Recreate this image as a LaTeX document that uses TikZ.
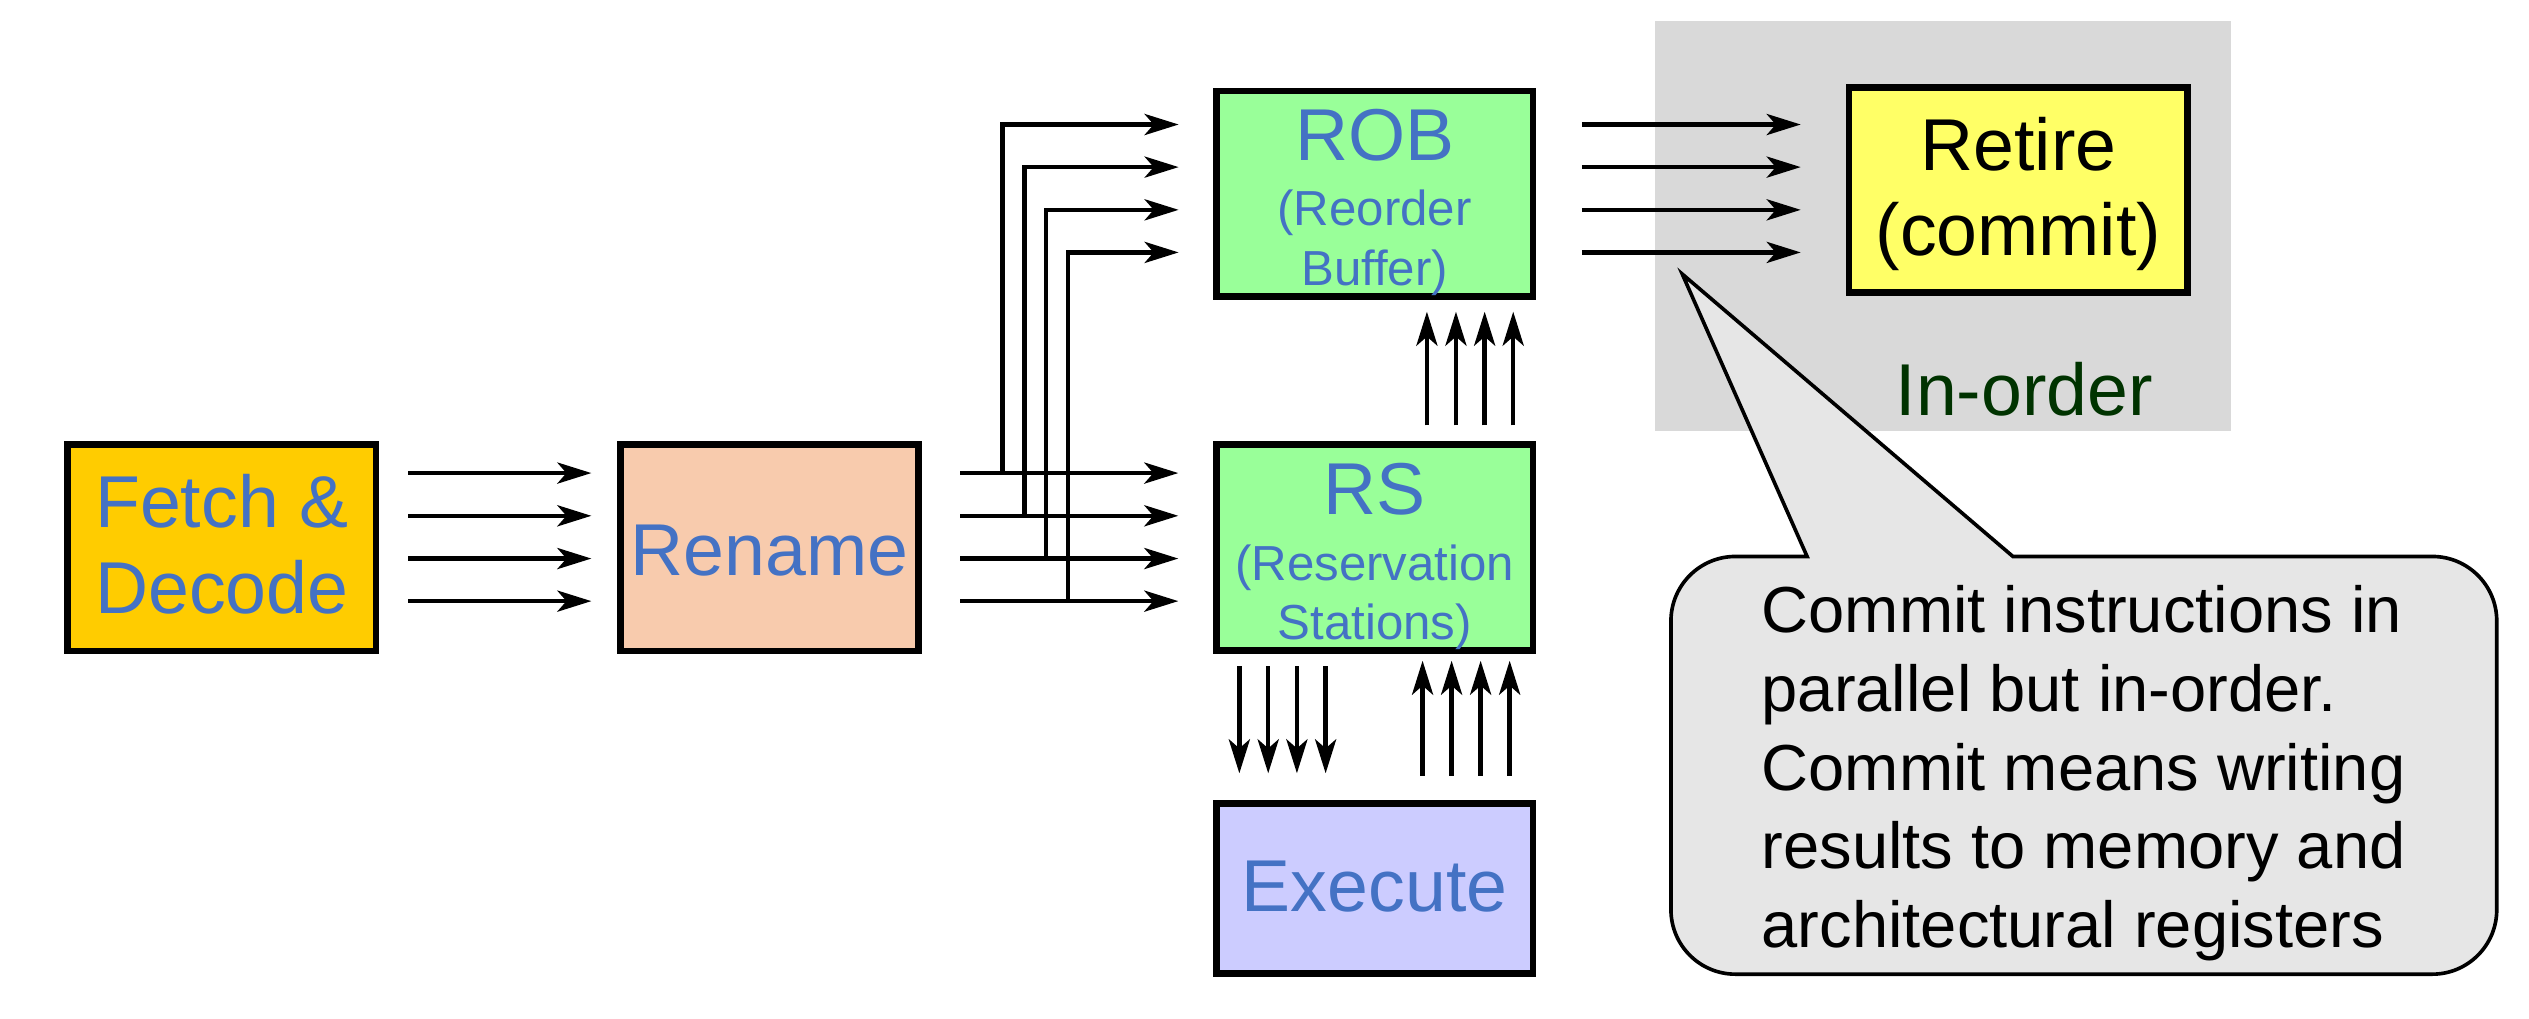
\documentclass[tikz,border=0pt]{standalone}
\usepackage{fontspec}
\setmainfont{Liberation Sans}
\usetikzlibrary{arrows.meta,calc}
\definecolor{txtblue}{HTML}{4472C4}
\definecolor{fetchc}{HTML}{FFCC00}
\definecolor{renamec}{HTML}{F8CBAD}
\definecolor{greenc}{HTML}{99FF99}
\definecolor{exec}{HTML}{CCCCFF}
\definecolor{retirec}{HTML}{FFFF66}
\definecolor{graybg}{HTML}{D9D9D9}
\definecolor{calloutc}{HTML}{E6E6E6}
\definecolor{darkgreen}{HTML}{003300}
\begin{document}
\begin{tikzpicture}[x=0.25mm, y=-0.25mm,
  box/.style={draw=black, line width=2.9pt, inner sep=0pt, rectangle},
  arr/.style={line width=2pt, -{Stealth[length=15pt, width=9.3pt, inset=4pt]}},
  big/.style={font=\fontsize{32.4pt}{38pt}\selectfont, text=txtblue, inner sep=0pt, anchor=base},
  small/.style={font=\fontsize{21.7pt}{26pt}\selectfont, text=txtblue, inner sep=0pt, anchor=base},
  note/.style={font=\fontsize{28.7pt}{34pt}\selectfont, inner sep=0pt, anchor=base west},
]
\useasboundingbox (0,0) rectangle (1568,631.2);

% in-order background
\node[fill=graybg, inner sep=0pt, minimum width=89.2mm, minimum height=63.55mm] (inorderbg) at (1204.55,139.9) {};

% boxes
\node[box, fill=fetchc, minimum width=47.75mm, minimum height=32mm] (fetch) at (137.5,339.5) {};
\node[box, fill=renamec, minimum width=46.2mm, minimum height=32mm] (rename) at (477,339.5) {};
\node[box, fill=greenc, minimum width=49.1mm, minimum height=31.9mm] (rob) at (852.3,120.2) {};
\node[box, fill=greenc, minimum width=49.1mm, minimum height=31.9mm] (rs) at (852.3,339.5) {};
\node[box, fill=exec, minimum width=49.1mm, minimum height=26.4mm] (exe) at (852.3,550.8) {};
\node[box, fill=retirec, minimum width=52.5mm, minimum height=31.8mm] (retire) at (1251.4,117.7) {};

% Fetch -> Rename
\coordinate (aS) at ($(fetch.east)+(18,0)$);
\coordinate (aE) at ($(rename.west)+(-15.9,0)$);
\foreach \d in {-46.2,-19.7,6.8,33.2}
  \draw[arr] ($(aS)+(0,\d)$) -- ($(aE)+(0,\d)$);

% Rename -> RS
\coordinate (bS) at ($(rename.east)+(23.8,0)$);
\coordinate (bE) at ($(rs.west)+(-21.5,0)$);
\foreach \d in {-46.2,-19.7,6.8,33.2}
  \draw[arr] ($(bS)+(0,\d)$) -- ($(bE)+(0,\d)$);

% Rename -> ROB (branches)
\foreach \dx/\dy/\ty in {50.2/-46.2/-43, 63.7/-19.7/-16.6, 77.1/6.8/9.9, 90.6/33.2/36.3}
  \draw[arr] ($(rename.east)+(\dx,\dy)$) |- ($(rob.west)+(-21.3,\ty)$);

% ROB -> Retire
\coordinate (cE) at ($(retire.west)+(-27.9,0)$);
\foreach \dy in {-43,-16.6,9.9,36.3}
  \draw[arr] ($(rob.east)+(28.3,\dy)$) coordinate (cs) -- (cs -| cE);

% RS -> ROB
\foreach \dx in {32.4,50.4,68.2,85.9}
  \draw[arr] ($(rs.north)+(\dx,-9.9)$) -- ($(rob.south)+(\dx,7.2)$);

% RS -> Execute
\foreach \dx in {-83.9,-66,-48.2,-30.4}
  \draw[arr] ($(rs.south)+(\dx,7.8)$) -- ($(exe.north)+(\dx,-16.5)$);

% Execute -> RS
\foreach \dx in {29.7,47.7,65.7,83.7}
  \draw[arr] ($(exe.north)+(\dx,-15)$) -- ($(rs.south)+(\dx,4.3)$);

% box texts
\node[big] (t1) at (137.5,327.2) {Fetch \&};
\node[big] (t2) at (137.5,380.3) {Decode};
\node[big] (t3) at (477,356.5) {Rename};
\node[big] (t4) at (852.3,99.8) {ROB};
\node[small] (t5) at (852.3,139.5) {(Reorder};
\node[small] (t6) at (852.3,177.1) {Buffer)};
\node[big] (t7) at (852.3,318.9) {RS};
\node[small] (t8) at (852.3,359.6) {(Reservation};
\node[small] (t9) at (852.3,396.2) {Stations)};
\node[big] (t10) at (852.3,565.2) {Execute};
\node[big, text=black] (t11) at (1251.4,105.8) {Retire};
\node[big, text=black] (t12) at (1251.4,158.7) {(commit)};
\node[big, text=darkgreen, anchor=base west] (t13) at (1175,257.3) {In-order};

% callout
\draw[fill=calloutc, line width=1.6pt, line join=miter]
  (1248,345) [rounded corners=10mm] -- (1548,345) -- (1548,604) -- (1036,604) -- (1036,345)
  [sharp corners] -- (1120.4,345) -- (1043,169.9) -- cycle;
\node[note] (n1) at (1092,392.3) {Commit instructions in};
\node[note] (n2) at (1092,441.1) {parallel but in-order.};
\node[note] (n3) at (1092,489.9) {Commit means writing};
\node[note] (n4) at (1092,538.7) {results to memory and};
\node[note] (n5) at (1092,587.5) {architectural registers};
\end{tikzpicture}
\end{document}
